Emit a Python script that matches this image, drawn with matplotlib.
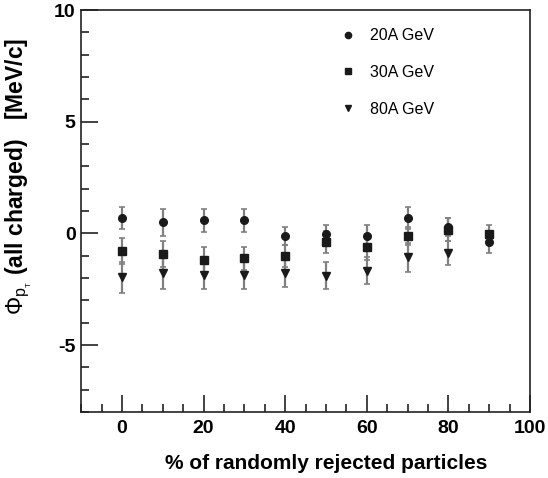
import numpy as np
import matplotlib
matplotlib.use("Agg")
from matplotlib import pyplot as plt
from matplotlib.ticker import MultipleLocator

plt.rcParams['font.family'] = ['Liberation Sans', 'DejaVu Sans']
plt.rcParams['mathtext.fontset'] = 'custom'
plt.rcParams['mathtext.rm'] = 'Liberation Sans'
plt.rcParams['mathtext.it'] = 'Liberation Sans'
plt.rcParams['axes.unicode_minus'] = False

# % of randomly rejected particles
x20 = [0, 10, 20, 30, 40, 50, 60, 70, 80, 90]
x30 = [0, 10, 20, 30, 40, 50, 60, 70, 80, 90]
x80 = [0, 10, 20, 30, 40, 50, 60, 70, 80]

# Phi_pT values and errors [MeV/c]
phi20 = [0.70, 0.50, 0.58, 0.58, -0.12, -0.01, -0.12, 0.70, 0.29, -0.38]
err20 = [0.50, 0.60, 0.50, 0.50, 0.40, 0.40, 0.50, 0.50, 0.40, 0.50]
phi30 = [-0.80, -0.92, -1.20, -1.12, -1.01, -0.38, -0.61, -0.10, 0.17, -0.01]
err30 = [0.58, 0.60, 0.60, 0.50, 0.50, 0.50, 0.60, 0.40, 0.50, 0.40]
phi80 = [-1.96, -1.79, -1.87, -1.87, -1.79, -1.89, -1.67, -1.07, -0.88]
err80 = [0.70, 0.70, 0.63, 0.63, 0.62, 0.60, 0.60, 0.64, 0.55]

labels = ["20A GeV", "30A GeV", "80A GeV"]

fig = plt.figure(figsize=(5.48, 4.78), dpi=100)
ax = fig.add_axes([0.148, 0.138, 0.819, 0.841])

series = [(x20, phi20, err20, 'o'), (x30, phi30, err30, 's'), (x80, phi80, err80, 'v')]
handles = []
for (xs, ys, es, mk), lab in zip(series, labels):
    line, caps, bars = ax.errorbar(xs, ys, yerr=es, fmt=mk, color='#1a1a1a',
                                   ms=5.5, ecolor='#808080', elinewidth=1.6,
                                   capsize=2.5, capthick=1.2)
    for c in caps:
        c.set_color('#1a1a1a')
    h, = ax.plot([], [], mk, color='#1a1a1a', ms=4.5, ls='none', label=lab)
    handles.append(h)

ax.set_xlim(-10, 100)
ax.set_ylim(-8, 10)
ax.xaxis.set_major_locator(MultipleLocator(20))
ax.xaxis.set_minor_locator(MultipleLocator(5))
ax.yaxis.set_major_locator(MultipleLocator(5))
ax.yaxis.set_minor_locator(MultipleLocator(1))
ax.tick_params(which='both', direction='in', top=False, right=False, width=1.2,
               color='#222222')
ax.tick_params(which='major', length=12, labelsize=14, pad=4)
ax.tick_params(axis='x', which='major', pad=6)
ax.tick_params(which='minor', length=6)
for lab in ax.get_xticklabels() + ax.get_yticklabels():
    lab.set_fontweight('bold')
for s in ax.spines.values():
    s.set_linewidth(1.2)
    s.set_color('#222222')

# ROOT style: axis titles aligned to the far end of the axis
ax.set_xlabel('% of randomly rejected particles', fontsize=15, fontweight='bold',
              ha='right')
ax.xaxis.set_label_coords(0.906, -0.105)
ax.set_ylabel(r'$\Phi_{p_{_T}}$ (all charged)   [MeV/c]', fontsize=16.5, fontweight='bold',
              ha='right', va='center')
ax.yaxis.set_label_coords(-0.14, 0.93)

ax.legend(handles=handles, loc='upper left', bbox_to_anchor=(0.545, 0.99),
          frameon=False, fontsize=11.5, labelspacing=1.35, handlelength=1.0,
          handletextpad=0.9)

plt.savefig("out.png", dpi=100)
